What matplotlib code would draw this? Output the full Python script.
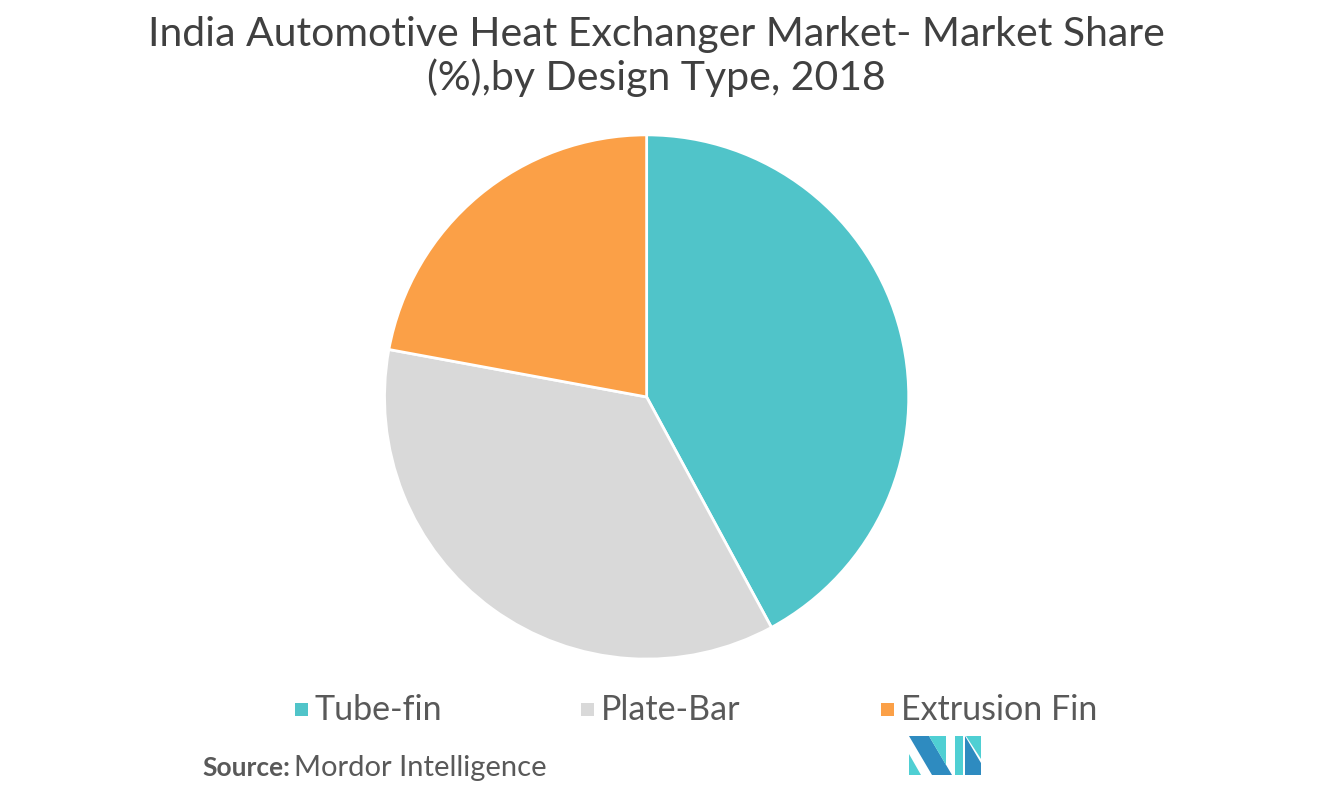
import matplotlib.pyplot as plt
from matplotlib.patches import Polygon, Rectangle

labels = ['Tube-fin', 'Plate-Bar', 'Extrusion Fin']
shares = [42.1, 35.8, 22.1]
colors = ['#50C4C9', '#D9D9D9', '#FBA047']

plt.rcParams['font.family'] = ['Lato', 'DejaVu Sans']

fig = plt.figure(figsize=(13.21, 8.04), dpi=100)
ax = fig.add_axes([0.291, 0.179, 0.397, 0.652])
ax.pie(shares, colors=colors, startangle=90, counterclock=False, radius=1,
       wedgeprops=dict(edgecolor='white', linewidth=2))
ax.set_xlim(-1, 1)
ax.set_ylim(-1, 1)
ax.set_aspect('equal')

fig.text(0.497, 0.930, 'India Automotive Heat Exchanger Market- Market Share\n(%),by Design Type, 2018',
         ha='center', va='center', fontsize=29.5, color='#404040', linespacing=1.17)

# legend
xs = [0.223, 0.440, 0.667]
for x, lab, c in zip(xs, labels, colors):
    fig.patches.append(Rectangle((x, 0.108), 0.0098, 0.016, transform=fig.transFigure,
                                 facecolor=c, edgecolor='none'))
    fig.text(x + 0.015, 0.117, lab, ha='left', va='center', fontsize=24.5, color='#595959')

fig.text(0.153, 0.045, 'Source:', ha='left', va='center', fontsize=19, color='#595959', fontweight='bold')
fig.text(0.2225, 0.045, 'Mordor Intelligence', ha='left', va='center', fontsize=21, color='#595959')

# logo
def px(x, y):
    return (x / 1321, 1 - y / 804)

logo = [
    ([(909, 737), (929, 737), (952, 776), (932, 776)], '#2E8BC0'),
    ([(909, 755), (921, 776), (909, 776)], '#4FCFD3'),
    ([(929, 737), (946, 737), (946, 766)], '#4FCFD3'),
    ([(955, 737), (963, 737), (963, 776), (955, 776)], '#4FCFD3'),
    ([(965, 737), (981, 764), (981, 776), (965, 776)], '#2E8BC0'),
    ([(966, 737), (981, 737), (981, 760)], '#4FCFD3'),
]
for pts, c in logo:
    fig.patches.append(Polygon([px(*p) for p in pts], closed=True, transform=fig.transFigure,
                               facecolor=c, edgecolor='none'))

fig.savefig('out.png', dpi=100, facecolor='white')
